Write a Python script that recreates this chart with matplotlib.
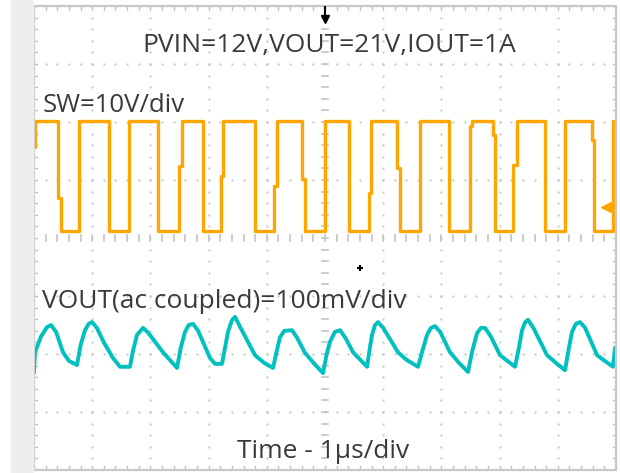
import numpy as np
import matplotlib.pyplot as plt
from matplotlib.patches import Rectangle

# scope settings
T_DIV = 1.0          # us/div
CH1_VDIV = 10.0      # V/div
CH1_POS = 0.0        # div
CH2_VDIV = 100.0     # mV/div
CH2_POS = -2.0       # div
TRIG_LEVEL = 5.3     # V on ch1

# SW node (ch1): time of each level change (us) and level after it (V)
sw_t = [0.0, 0.017, 0.412, 0.464, 0.773, 1.29, 1.632, 2.131, 2.491, 2.543,
        2.904, 3.213, 3.247, 3.797, 4.124, 4.175, 4.605, 4.656, 5.000, 5.41,
        5.756, 5.790, 6.237, 6.289, 6.632, 7.131, 7.491, 7.526, 7.887, 7.921,
        8.230, 8.299, 8.780, 9.124, 9.588, 9.622, 9.948, 10.0]
sw_v = [15.7, 20.2, 6.9, 1.2, 20.2, 1.2, 20.2, 1.2, 12.4, 20.2,
        1.2, 10.7, 20.2, 1.2, 9.0, 20.2, 10.2, 1.2, 20.2, 1.2,
        7.8, 20.2, 12.1, 1.2, 20.2, 1.2, 19.3, 20.2, 17.8, 1.2,
        12.6, 20.2, 1.2, 20.2, 16.9, 1.2, 20.2, 20.2]

# VOUT ripple (ch2, ac coupled): time in us, mV
vout_t = [0.0, 0.017, 0.12, 0.22, 0.292, 0.38, 0.498, 0.60, 0.739, 0.80,
          0.876, 0.94, 0.997, 1.08, 1.20, 1.357, 1.478, 1.649, 1.70, 1.770,
          1.873, 1.95, 2.05, 2.216, 2.457, 2.52, 2.594, 2.66, 2.732, 2.82,
          3.024, 3.110, 3.230, 3.29, 3.333, 3.40, 3.454, 3.55, 3.797, 3.95,
          4.107, 4.17, 4.227, 4.30, 4.433, 4.52, 4.656, 4.80, 4.966, 5.03,
          5.086, 5.17, 5.258, 5.35, 5.481, 5.722, 5.77, 5.808, 5.86, 5.911,
          6.00, 6.254, 6.40, 6.598, 6.667, 6.753, 6.82, 6.890, 6.98, 7.148,
          7.30, 7.457, 7.53, 7.612, 7.68, 7.749, 7.85, 8.007, 8.265, 8.33,
          8.385, 8.44, 8.488, 8.58, 8.814, 9.0, 9.124, 9.19, 9.244, 9.31,
          9.381, 9.47, 9.674, 9.85, 9.948, 9.983]
vout_mv = [-31, 3, 30, 46, 50, 38, 3, -12, -19, 15,
           41, 52, 55, 45, 20, -7, -22, -22, 5, 33,
           45, 38, 25, 3, -24, 10, 38, 50, 52, 40,
           -7, -17, -17, 15, 38, 58, 64, 45, -2, -15,
           -24, 5, 29, 40, 41, 28, 2, -15, -33, 0,
           21, 38, 41, 28, 3, -22, 10, 33, 50, 55,
           45, 3, -10, -22, 3, 33, 45, 48, 38, 3,
           -15, -31, 5, 36, 45, 45, 30, -2, -22, 10,
           41, 55, 59, 45, -2, -18, -28, 10, 38, 52,
           55, 45, -2, -15, -22, 10]

title_txt = "PVIN=12V,VOUT=21V,IOUT=1A"
ch1_txt = "SW=10V/div"
ch2_txt = "VOUT(ac coupled)=100mV/div"
time_txt = "Time - 1\u03bcs/div"

ORANGE = "#FFA500"
TEAL = "#00C0C0"
GRID = "#c4c4c4"
TXT = "#3a3a3a"
FONT = ["Open Sans", "DejaVu Sans"]


def draw_graticule(ax):
    dots = np.arange(0, 10.001, 0.2)
    vdots = np.arange(-4, 4.001, 0.2)
    for gx in range(1, 10):
        if gx == 5:
            continue
        ax.plot([gx] * len(vdots), vdots, ls="none", marker="s", ms=1.4,
                color=GRID, mew=0)
    for gy in range(-3, 4):
        if gy == 0:
            continue
        ax.plot(dots, [gy] * len(dots), ls="none", marker="s", ms=1.4,
                color=GRID, mew=0)
    # centre cross with minor ticks
    for x in dots:
        ax.plot([x, x], [-0.06, 0.06], color=GRID, lw=1.2)
        ax.plot([x, x], [4, 3.93], color=GRID, lw=1.0)
        ax.plot([x, x], [-4, -3.93], color=GRID, lw=1.0)
    for y in vdots:
        ax.plot([4.94, 5.06], [y, y], color=GRID, lw=1.2)
        ax.plot([0, 0.06], [y, y], color=GRID, lw=1.0)
        ax.plot([10, 9.94], [y, y], color=GRID, lw=1.0)
    ax.add_patch(Rectangle((0, -4), 10, 8, fill=False, ec="#c8c8c8", lw=1.6,
                           zorder=5, clip_on=False))


def main():
    fig = plt.figure(figsize=(6.2, 4.73), dpi=100)
    fig.patches.append(Rectangle((11 / 620, 0), 22 / 620, 1, transform=fig.transFigure,
                                 color="#eeeeee", zorder=0))
    ax = fig.add_axes([34 / 620, 3 / 473, 582 / 620, 464 / 473])
    ax.set_xlim(0, 10)
    ax.set_ylim(-4, 4)
    ax.axis("off")

    draw_graticule(ax)

    t1 = np.array(sw_t) / T_DIV
    y1 = np.array(sw_v) / CH1_VDIV + CH1_POS
    ax.plot(t1, y1, color=ORANGE, lw=2.4, drawstyle="steps-post", zorder=3)

    t2 = np.array(vout_t) / T_DIV
    y2 = np.array(vout_mv) / CH2_VDIV + CH2_POS
    ax.plot(t2, y2, color=TEAL, lw=2.8, zorder=3)

    # texts
    ax.text(5.07, 3.2, title_txt, ha="center", va="baseline", fontsize=19,
            color=TXT, family=FONT)
    ax.text(0.14, 2.17, ch1_txt, ha="left", va="baseline", fontsize=18.5,
            color=TXT, family=FONT)
    ax.text(0.14, -1.2, ch2_txt, ha="left", va="baseline", fontsize=19,
            color=TXT, family=FONT)
    ax.text(4.97, -3.8, time_txt, ha="center", va="baseline", fontsize=19,
            color=TXT, family=FONT)

    # channel markers on the left
    ax.text(-0.32, CH1_POS, "1", ha="center", va="center", fontsize=9,
            color=ORANGE, family=FONT, clip_on=False)
    ax.plot([-0.12], [CH1_POS], marker=">", ms=5, color=ORANGE, clip_on=False)
    ax.text(-0.32, CH2_POS, "2", ha="center", va="center", fontsize=9,
            color=TEAL, family=FONT, clip_on=False)
    ax.plot([-0.12], [CH2_POS], marker=">", ms=5, color=TEAL, clip_on=False)

    # trigger level, trigger position
    trig = TRIG_LEVEL / CH1_VDIV + CH1_POS
    ax.plot([9.83], [trig], marker="<", ms=7, color=ORANGE, clip_on=False, zorder=4)
    ax.plot([9.83, 10.0], [trig, trig], color=ORANGE, lw=2, zorder=4)
    ax.plot([5.0, 5.0], [3.98, 3.82], color="black", lw=1.5, zorder=6)
    ax.plot([5.0], [3.78], marker="v", ms=6, color="black", zorder=6)
    ax.plot([5.6], [-0.52], marker="+", ms=4, mew=1.5, color="black", zorder=6)

    fig.savefig("out.png", dpi=100, facecolor="white")


if __name__ == "__main__":
    main()
